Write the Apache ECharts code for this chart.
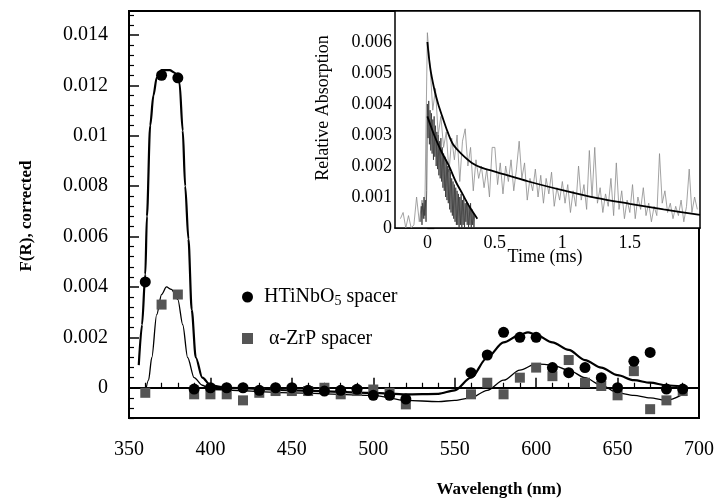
<!DOCTYPE html>
<html><head><meta charset="utf-8">
<script src="https://cdn.jsdelivr.net/npm/echarts@6/dist/echarts.min.js"></script>
<style>html,body{margin:0;padding:0;background:#fff}#c{width:717px;height:503px}</style>
</head><body><div id="c"></div>
<script>
// ---- main chart data ----
const wavelengths = [360,370,380,390,400,410,420,430,440,450,460,470,480,490,500,510,520,560,570,580,590,600,610,620,630,640,650,660,670,680,690];
const htinbo5 = [0.0042,0.0124,0.0123,-0.00005,0,0,0,-0.0001,0,0,-0.0001,-0.00013,-0.0001,-0.00006,-0.0003,-0.0003,-0.00045,0.0006,0.0013,0.0022,0.002,0.002,0.0008,0.0006,0.0008,0.0004,0,0.00105,0.0014,-0.00005,-0.00005];
const zrp = [-0.0002,0.0033,0.0037,-0.00026,-0.00026,-0.00026,-0.0005,-0.0002,-0.00013,-0.00013,-0.00013,0,-0.00026,-0.00013,-0.00007,-0.0002,-0.00066,-0.00026,0.0002,-0.00026,0.0004,0.0008,0.00046,0.0011,0.0002,0.00007,-0.0003,0.00066,-0.00085,-0.0005,-0.00013];
const fitHTiNbO5 = [[356,0.0009],[358,0.0025],[360,0.0045],[361,0.0068],[363,0.0104],[365,0.0116],[367,0.0123],[370,0.0126],[375,0.0126],[378,0.0125],[381,0.0121],[383,0.0102],[384.5,0.0080],[386.5,0.0059],[388.5,0.0031],[391,0.0012],[395,0.0004],[400,0.0001],[410,0],[450,-0.0001],[500,-0.0002],[520,-0.00026],[540,-0.00024],[550,-0.0001],[560,0.0004],[570,0.0012],[580,0.0018],[590,0.0021],[595,0.0022],[600,0.0021],[610,0.0018],[620,0.0015],[630,0.0011],[640,0.0008],[650,0.0005],[660,0.0003],[670,0.0002],[680,0.0001],[690,0.00004]];
const fitZrP = [[360,-0.0002],[362,0.0003],[364,0.0012],[367,0.0029],[370,0.0037],[373,0.0040],[376,0.0039],[380,0.0035],[383,0.0025],[386,0.0012],[390,0.0004],[395,0.0001],[400,-0.00007],[450,-0.0002],[500,-0.0003],[520,-0.0005],[540,-0.00055],[550,-0.0005],[560,-0.0004],[570,-0.0001],[580,0.0003],[590,0.0007],[600,0.00095],[610,0.0009],[620,0.0007],[630,0.0004],[640,0.0001],[650,-0.0002],[660,-0.0003],[670,-0.0004],[680,-0.0005],[690,-0.00026]];
const mainYTicks = [0,0.002,0.004,0.006,0.008,0.01,0.012,0.014];
const mainYMinor = [-0.0012,-0.0008,-0.0004,0.0004,0.0008,0.0012,0.0016,0.0024,0.0028,0.0032,0.0036,0.0044,0.0048,0.0052,0.0056,0.0064,0.0068,0.0072,0.0076,0.0084,0.0088,0.0092,0.0096,0.0104,0.0108,0.0112,0.0116,0.0124,0.0128,0.0132,0.0136,0.0144,0.0148];

// ---- inset data ----
const insetXTicks = [0,0.5,1,1.5];
const insetXMinor = [-0.2,-0.1,0.1,0.2,0.3,0.4,0.6,0.7,0.8,0.9,1.1,1.2,1.3,1.4,1.6,1.7,1.8,1.9,2.0];
const slowStart = -0.2, slowStep = 0.02;
const slowTrace = [0.0003,0.0005,0.0000,0.0004,0.0000,0.0001,0.0010,0.0002,0.0009,0.0003,
0.0063,0.0052,0.0038,0.0045,0.0030,0.0036,0.0026,0.0031,0.0018,0.0029,
0.0022,0.0030,0.0015,0.0028,0.0032,0.0020,0.0026,0.0012,0.0022,0.0016,
0.0020,0.0013,0.0019,0.0010,0.0026,0.0026,0.0014,0.0021,0.0011,0.0020,
0.0015,0.0022,0.0012,0.0019,0.0028,0.0016,0.0021,0.0009,0.0016,0.0012,
0.0019,0.0010,0.0017,0.0008,0.0016,0.0011,0.0018,0.0007,0.0013,0.0009,
0.0015,0.0008,0.0014,0.0005,0.0012,0.0007,0.0020,0.0009,0.0014,0.0006,
0.0025,0.0010,0.0026,0.0008,0.0013,0.0005,0.0011,0.0007,0.0016,0.0004,
0.0021,0.0006,0.0012,0.0003,0.0009,0.0005,0.0014,0.0003,0.0010,0.0006,
0.0013,0.0004,0.0008,0.0002,0.0007,0.0004,0.0024,0.0008,0.0012,0.0005,
0.0008,0.0003,0.0007,0.0004,0.0009,0.0002,0.0007,0.0019,0.0005,0.0010,0.0006];
const fastStart = -0.05, fastStep = 0.005;
const fastTrace = [0.0002,0.0007,0.0001,0.0008,0.0003,0.0010,0.0004,0.0009,0.0002,0.0012,
0.0040,0.0029,0.0041,0.0027,0.0038,0.0025,0.0037,0.0024,0.0035,0.0022,
0.0036,0.0023,0.0033,0.0020,0.0031,0.0019,0.0030,0.0017,0.0028,0.0016,
0.0029,0.0015,0.0026,0.0013,0.0024,0.0012,0.0023,0.0010,0.0022,0.0009,
0.0020,0.0008,0.0019,0.0006,0.0018,0.0005,0.0016,0.0004,0.0015,0.0003,
0.0014,0.0002,0.0013,0.0001,0.0012,0.0001,0.0011,0.0000,0.0010,0.0001,
0.0011,0.0000,0.0009,0.0001,0.0010,0.0000,0.0008,0.0002,0.0009,0.0001,
0.0008,0.0000,0.0007,0.0001,0.0008,0.0000,0.0006,0.0001,0.0005,0.0000,0.0004];
const slowFit = [[0,0.0060],[0.02,0.0052],[0.05,0.0045],[0.08,0.0040],[0.11,0.0036],[0.15,0.0031],[0.19,0.0027],[0.25,0.0024],[0.33,0.0021],[0.4,0.00195],[0.5,0.00182],[0.75,0.0015],[1.0,0.00122],[1.25,0.00097],[1.5,0.00078],[1.75,0.0006],[2.02,0.00042]];
const fastFit = [[0,0.0036],[0.05,0.0030],[0.1,0.0025],[0.16,0.0020],[0.21,0.0015],[0.26,0.0011],[0.31,0.0007],[0.37,0.0003]];

const FF = 'Liberation Serif';
const chart = echarts.init(document.getElementById('c'), null, {renderer:'canvas'});
const fmt = v => String(+(+v).toFixed(4));
const blk = '#000';

const option = {
  animation: false,
  backgroundColor: '#fff',
  textStyle: {fontFamily: FF, color: blk},
  grid: [
    {left:129, right:17, top:11, bottom:85, show:true, borderColor:blk, borderWidth:2, backgroundColor:'transparent'},
    {left:395, right:17, top:11, bottom:275, show:true, borderColor:blk, borderWidth:1.5, backgroundColor:'#fff', z:3}
  ],
  xAxis: [
    {type:'value', gridIndex:0, min:350, max:700, interval:50,
     axisLine:{lineStyle:{color:blk,width:2}},
     axisTick:{inside:true,length:10,lineStyle:{color:blk,width:1.5}},
     minorTick:{show:true,splitNumber:5,length:5,lineStyle:{color:blk,width:1.2}},
     axisLabel:{margin:22,fontSize:20,color:blk,fontFamily:FF},
     splitLine:{show:false}},
    {type:'value', gridIndex:1, min:-0.24, max:2.02, position:'bottom',
     axisLine:{lineStyle:{color:blk,width:1.5}},
     axisTick:{inside:true,length:7,customValues:insetXTicks,lineStyle:{color:blk,width:1.2}},
     axisLabel:{margin:6,fontSize:18,color:blk,fontFamily:FF,customValues:insetXTicks,formatter:fmt},
     splitLine:{show:false}},
    {type:'value', gridIndex:1, min:-0.24, max:2.02, position:'bottom',
     axisLine:{show:false},
     axisTick:{inside:true,length:4,customValues:insetXMinor,lineStyle:{color:blk,width:1}},
     axisLabel:{show:false}, splitLine:{show:false}}
  ],
  yAxis: [
    {type:'value', gridIndex:0, min:-0.0012, max:0.01495, position:'left',
     axisLine:{show:true,lineStyle:{color:blk,width:2}},
     axisTick:{inside:true,length:10,customValues:mainYTicks,lineStyle:{color:blk,width:1.5}},
     axisLabel:{margin:21,fontSize:20,color:blk,fontFamily:FF,customValues:mainYTicks,formatter:fmt},
     splitLine:{show:false}},
    {type:'value', gridIndex:0, min:-0.0012, max:0.01495, position:'left',
     axisLine:{show:false},
     axisTick:{inside:true,length:5,customValues:mainYMinor,lineStyle:{color:blk,width:1.2}},
     axisLabel:{show:false}, splitLine:{show:false}},
    {type:'value', gridIndex:1, min:0, max:0.007, interval:0.001, position:'left',
     axisLine:{show:true,lineStyle:{color:blk,width:1.5}},
     axisTick:{inside:true,length:7,lineStyle:{color:blk,width:1.2}},
     minorTick:{show:true,splitNumber:5,length:4,lineStyle:{color:blk,width:1}},
     axisLabel:{margin:3,fontSize:18,color:blk,fontFamily:FF,showMaxLabel:false,formatter:fmt},
     splitLine:{show:false}}
  ],
  legend: {
    data:[{name:'HTiNbO5 spacer',icon:'circle'},{name:'α-ZrP spacer',icon:'rect'}],
    orient:'vertical', left:237, top:282, itemWidth:11, itemHeight:11, itemGap:20,
    formatter: n => n === 'HTiNbO5 spacer' ? 'HTiNbO{sub|5} spacer' : ' ' + n,
    textStyle:{fontFamily:FF, fontSize:20, color:blk, padding:[0,0,0,6],
      rich:{sub:{fontFamily:FF, fontSize:14, color:blk, verticalAlign:'bottom', padding:[9,0,0,0]}}}
  },
  graphic: [
    {type:'text', x:27, y:216, rotation:Math.PI/2, style:{text:'F(R), corrected', font:'bold 17px "Liberation Serif"', fill:blk, align:'center', verticalAlign:'middle'}},
    {type:'text', x:499, y:490, style:{text:'Wavelength (nm)', font:'bold 17px "Liberation Serif"', fill:blk, align:'center', verticalAlign:'middle'}},
    {type:'text', x:323, y:108, rotation:Math.PI/2, z:10, style:{text:'Relative Absorption', font:'18px "Liberation Serif"', fill:blk, align:'center', verticalAlign:'middle'}},
    {type:'text', x:545, y:257, z:10, style:{text:'Time (ms)', font:'18px "Liberation Serif"', fill:blk, align:'center', verticalAlign:'middle'}}
  ],
  series: [
    {type:'line', name:'fit1', xAxisIndex:0, yAxisIndex:0, data:fitHTiNbO5, showSymbol:false, smooth:0.3, smoothMonotone:'x', lineStyle:{color:blk,width:2.2}, z:2},
    {type:'line', name:'fit2', xAxisIndex:0, yAxisIndex:0, data:fitZrP, showSymbol:false, smooth:0.3, smoothMonotone:'x', lineStyle:{color:blk,width:1.3}, z:2},
    {type:'scatter', name:'HTiNbO5 spacer', xAxisIndex:0, yAxisIndex:0, symbol:'circle', symbolSize:11,
     data: wavelengths.map((w,i)=>[w, htinbo5[i]]), itemStyle:{color:blk, opacity:1}, z:4},
    {type:'scatter', name:'α-ZrP spacer', xAxisIndex:0, yAxisIndex:0, symbol:'rect', symbolSize:10,
     data: wavelengths.map((w,i)=>[w, zrp[i]]), itemStyle:{color:'#555', opacity:1}, z:3},
    {type:'line', name:'slow', xAxisIndex:1, yAxisIndex:2, showSymbol:false, z:5,
     data: slowTrace.map((v,i)=>[+(slowStart+i*slowStep).toFixed(3), v]), lineStyle:{color:'#8c8c8c',width:0.8}},
    {type:'line', name:'fast', xAxisIndex:1, yAxisIndex:2, showSymbol:false, z:5,
     data: fastTrace.map((v,i)=>[+(fastStart+i*fastStep).toFixed(3), v]), lineStyle:{color:'#333',width:0.8}},
    {type:'line', name:'slowfit', xAxisIndex:1, yAxisIndex:2, showSymbol:false, smooth:0.3, z:6, data:slowFit, lineStyle:{color:blk,width:1.8}},
    {type:'line', name:'fastfit', xAxisIndex:1, yAxisIndex:2, showSymbol:false, smooth:0.3, z:6, data:fastFit, lineStyle:{color:blk,width:1.8}}
  ]
};
chart.setOption(option);
</script></body></html>
